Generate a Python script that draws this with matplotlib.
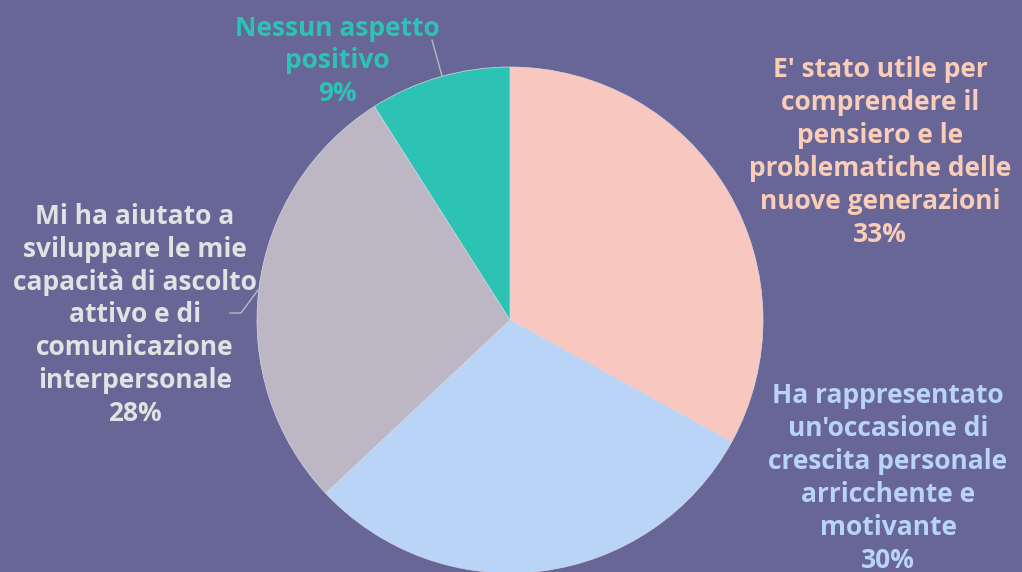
import matplotlib.pyplot as plt

# Data
labels = ["E' stato utile per\ncomprendere il\npensiero e le\nproblematiche delle\nnuove generazioni",
          "Ha rappresentato\nun'occasione di\ncrescita personale\narricchente e\nmotivante",
          "Mi ha aiutato a\nsviluppare le mie\ncapacità di ascolto\nattivo e di\ncomunicazione\ninterpersonale",
          "Nessun aspetto\npositivo"]
values = [33, 30, 28, 9]
colors = ['#F8C7BF', '#BAD4F8', '#BDB6C4', '#2DC3B4']
text_colors = ['#F9CDB8', '#BAD4F8', '#E2E2E2', '#2DC3B4']
label_pos = [(880, 420), (888, 94), (135, 257), (337, 511)]

bg = '#676697'

fig = plt.figure(figsize=(10.22, 5.72), dpi=100)
fig.patch.set_facecolor(bg)
ax = fig.add_axes([0, 0, 1, 1])
ax.set_facecolor(bg)

ax.pie(values, colors=colors, startangle=90, counterclock=False,
       radius=253, center=(510, 252), frame=True,
       wedgeprops=dict(edgecolor='#D8D8E0', linewidth=0.5))
ax.set_xlim(0, 1022)
ax.set_ylim(0, 572)
ax.set_aspect('equal')
ax.axis('off')

for lab, v, c, (x, y) in zip(labels, values, text_colors, label_pos):
    ax.text(x, y, f"{lab}\n{v}%", ha='center', va='center', color=c,
            fontsize=19, fontweight='bold', family='Open Sans', linespacing=1.28)

# leader lines
ax.plot([432, 442], [532, 496], color='#B8B8C0', lw=1)
ax.plot([230, 241, 258], [259, 259, 282], color='#B8B8C0', lw=1)

fig.savefig('out.png', dpi=100, facecolor=bg)
